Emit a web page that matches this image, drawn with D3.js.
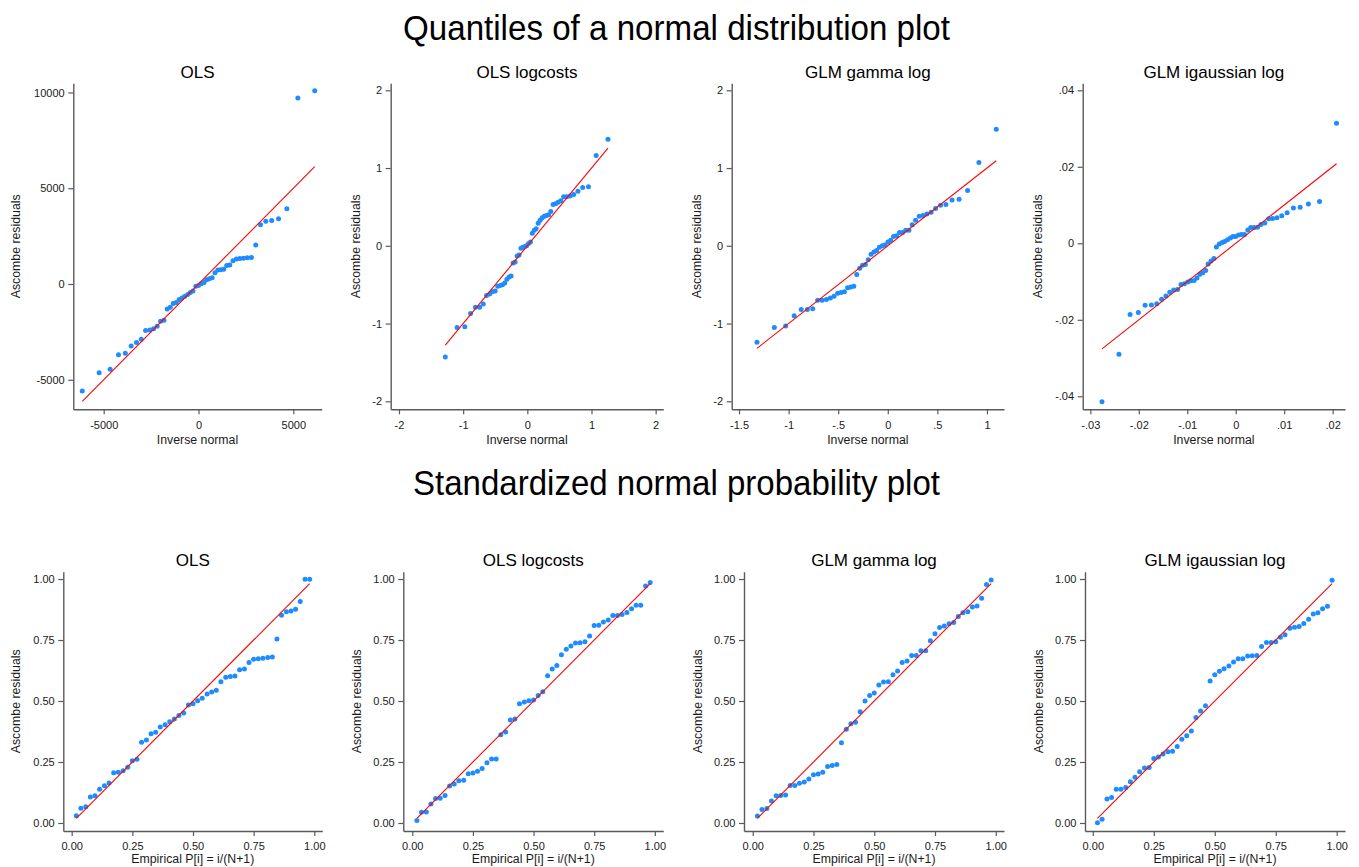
<!DOCTYPE html>
<html>
<head>
<meta charset="utf-8">
<script src="https://cdn.jsdelivr.net/npm/d3@7"></script>
<style>
  body { margin: 0; background: #fff; }
  svg { display: block; }
  text { font-family: "Liberation Sans", Arial, Helvetica, sans-serif; }
</style>
</head>
<body>
<div id="chart"></div>
<script>
// ---- data ----
const mainTitles = ['Quantiles of a normal distribution plot', 'Standardized normal probability plot'];
const modelNames = ['OLS', 'OLS logcosts', 'GLM gamma log', 'GLM igaussian log'];

// top row: x = inverse normal, y = sorted Ascombe residuals
const invOls = [-6130,-5240,-4660,-4220,-3860,-3550,-3270,-3020,-2790,-2570,-2370,-2180,-2000,-1820,-1650,-1490,-1330,-1170,-1020,-870,-720,-570,-430,-290,-140,0,140,290,430,570,720,870,1020,1170,1330,1490,1650,1820,2000,2180,2370,2570,2790,3020,3270,3550,3860,4220,4660,5240,6130];
const resOls = [-5590,-4630,-4450,-3700,-3620,-3240,-3050,-2890,-2430,-2400,-2340,-2200,-1950,-1890,-1300,-1220,-1020,-970,-810,-730,-640,-550,-440,-360,-120,-80,10,80,220,280,330,590,730,750,770,970,990,1210,1310,1330,1350,1370,1390,2040,3100,3270,3320,3410,3930,9710,10090];

const invLogcosts = [-1.278,-1.094,-0.974,-0.884,-0.809,-0.744,-0.687,-0.635,-0.587,-0.543,-0.501,-0.461,-0.423,-0.387,-0.352,-0.318,-0.285,-0.253,-0.221,-0.190,-0.159,-0.129,-0.099,-0.070,-0.040,-0.011,0.019,0.049,0.078,0.108,0.138,0.169,0.200,0.232,0.264,0.297,0.331,0.366,0.402,0.440,0.480,0.522,0.566,0.614,0.666,0.723,0.788,0.863,0.953,1.073,1.257];
const resLogcosts = [-1.43,-1.05,-1.04,-0.87,-0.79,-0.79,-0.75,-0.64,-0.62,-0.59,-0.58,-0.52,-0.51,-0.50,-0.48,-0.43,-0.40,-0.39,-0.22,-0.21,-0.13,-0.12,-0.03,-0.02,-0.01,0.00,0.03,0.05,0.16,0.20,0.22,0.29,0.33,0.36,0.38,0.39,0.40,0.44,0.53,0.54,0.56,0.58,0.63,0.63,0.64,0.66,0.70,0.75,0.76,1.16,1.37];

const invGamma = [-1.319,-1.144,-1.030,-0.944,-0.873,-0.811,-0.757,-0.707,-0.662,-0.619,-0.579,-0.542,-0.505,-0.471,-0.438,-0.405,-0.374,-0.343,-0.313,-0.283,-0.254,-0.226,-0.197,-0.169,-0.140,-0.113,-0.084,-0.056,-0.028,0.001,0.029,0.058,0.088,0.118,0.149,0.180,0.213,0.246,0.280,0.317,0.354,0.394,0.437,0.482,0.532,0.586,0.648,0.719,0.805,0.919,1.094];
const resGamma = [-1.24,-1.05,-1.03,-0.90,-0.82,-0.82,-0.81,-0.70,-0.70,-0.69,-0.67,-0.65,-0.61,-0.60,-0.59,-0.54,-0.53,-0.52,-0.37,-0.29,-0.25,-0.24,-0.18,-0.11,-0.08,-0.06,-0.02,0.00,0.01,0.05,0.07,0.12,0.13,0.17,0.17,0.20,0.20,0.27,0.33,0.38,0.39,0.41,0.43,0.48,0.52,0.53,0.59,0.60,0.71,1.07,1.50];

const invIgauss = [-0.0276,-0.0241,-0.0218,-0.0201,-0.0187,-0.0174,-0.0163,-0.0153,-0.0144,-0.0136,-0.0128,-0.0120,-0.0113,-0.0106,-0.0099,-0.0093,-0.0086,-0.0080,-0.0074,-0.0068,-0.0062,-0.0057,-0.0051,-0.0045,-0.0040,-0.0034,-0.0028,-0.0023,-0.0017,-0.0011,-0.0006,0.0000,0.0006,0.0012,0.0018,0.0025,0.0031,0.0038,0.0045,0.0052,0.0060,0.0068,0.0076,0.0085,0.0095,0.0106,0.0119,0.0133,0.0150,0.0173,0.0208];
const resIgauss = [-0.0414,-0.0290,-0.0186,-0.0181,-0.0162,-0.0161,-0.0158,-0.0146,-0.0138,-0.0128,-0.0122,-0.0121,-0.0108,-0.0106,-0.0101,-0.0098,-0.0097,-0.0091,-0.0081,-0.0077,-0.0071,-0.0054,-0.0046,-0.0040,-0.0010,-0.0002,0.0002,0.0005,0.0009,0.0014,0.0018,0.0018,0.0022,0.0023,0.0023,0.0035,0.0041,0.0041,0.0042,0.0049,0.0053,0.0064,0.0065,0.0067,0.0072,0.0080,0.0092,0.0094,0.0103,0.0109,0.0314];

// bottom row: x = empirical P[i] = i/(N+1), y = standardized normal probability
const pEmpirical = [0.019,0.038,0.058,0.077,0.096,0.115,0.135,0.154,0.173,0.192,0.212,0.231,0.250,0.269,0.288,0.308,0.327,0.346,0.365,0.385,0.404,0.423,0.442,0.462,0.481,0.500,0.519,0.538,0.558,0.577,0.596,0.615,0.635,0.654,0.673,0.692,0.712,0.731,0.750,0.769,0.788,0.808,0.827,0.846,0.865,0.885,0.904,0.923,0.942,0.962,0.981];
const stdOls = [0.030,0.060,0.067,0.107,0.112,0.138,0.153,0.164,0.206,0.208,0.214,0.228,0.255,0.261,0.331,0.340,0.366,0.372,0.393,0.403,0.415,0.426,0.441,0.451,0.484,0.489,0.501,0.511,0.529,0.537,0.544,0.579,0.597,0.600,0.602,0.628,0.631,0.658,0.671,0.673,0.675,0.678,0.680,0.754,0.852,0.866,0.869,0.876,0.908,0.999,0.999];
const stdLogcosts = [0.010,0.044,0.045,0.078,0.100,0.101,0.113,0.152,0.160,0.173,0.175,0.202,0.205,0.212,0.223,0.247,0.262,0.262,0.362,0.373,0.422,0.426,0.489,0.496,0.501,0.504,0.523,0.538,0.604,0.631,0.646,0.690,0.712,0.725,0.738,0.739,0.743,0.766,0.809,0.811,0.824,0.832,0.850,0.850,0.855,0.863,0.878,0.893,0.893,0.971,0.986];
const stdGamma = [0.029,0.055,0.059,0.090,0.112,0.113,0.115,0.154,0.154,0.163,0.168,0.180,0.198,0.201,0.208,0.232,0.236,0.240,0.329,0.384,0.407,0.413,0.456,0.500,0.523,0.533,0.566,0.578,0.579,0.608,0.623,0.658,0.664,0.687,0.687,0.706,0.706,0.747,0.776,0.801,0.807,0.817,0.822,0.846,0.862,0.866,0.885,0.889,0.921,0.978,0.996];
const stdIgauss = [0.001,0.015,0.098,0.104,0.138,0.138,0.145,0.169,0.187,0.210,0.225,0.227,0.264,0.270,0.283,0.292,0.294,0.314,0.343,0.358,0.377,0.432,0.459,0.481,0.582,0.608,0.622,0.632,0.643,0.660,0.673,0.673,0.684,0.686,0.687,0.723,0.740,0.740,0.743,0.761,0.772,0.798,0.802,0.805,0.818,0.835,0.857,0.862,0.878,0.888,0.995];

// tick values / labels
const ticksOls = [-5000, 0, 5000, 10000];
const ticksOlsX = [-5000, 0, 5000];
const ticksTwo = [-2, -1, 0, 1, 2];
const ticksGammaX = [-1.5, -1, -0.5, 0, 0.5, 1];
const labelsGammaX = ['-1.5', '-1', '-.5', '0', '.5', '1'];
const ticksIgaussX = [-0.03, -0.02, -0.01, 0, 0.01, 0.02];
const labelsIgaussX = ['-.03', '-.02', '-.01', '0', '.01', '.02'];
const ticksIgaussY = [-0.04, -0.02, 0, 0.02, 0.04];
const labelsIgaussY = ['-.04', '-.02', '0', '.02', '.04'];
const ticksProb = [0, 0.25, 0.5, 0.75, 1];
const labelsProb = ['0.00', '0.25', '0.50', '0.75', '1.00'];

// ---- layout ----
const W = 1359, H = 867;
const DOT = '#1e8cff', LINE = '#ff0000', AXIS = '#5a5a5a', INK = '#1a1a1a';

const topT = 83.3, topB = 409.3, botT = 571.7, botB = 831;

const panels = [
  // quantile plots
  { title: modelNames[0], xs: invOls, ys: resOls, l: 73.3, r: 321.7, t: topT, b: topB,
    xDom: [-6603, 6498], yDom: [-6542, 10479], xTicks: ticksOlsX, yTicks: ticksOls,
    xTitle: 'Inverse normal', xTitleDy: 35, yTitleX: 16 },
  { title: modelNames[1], xs: invLogcosts, ys: resLogcosts, l: 390.7, r: 663.3, t: topT, b: topB,
    xDom: [-2.129, 2.119], yDom: [-2.103, 2.090], xTicks: ticksTwo, yTicks: ticksTwo,
    xTitle: 'Inverse normal', xTitleDy: 35, yTitleX: 356 },
  { title: modelNames[2], xs: invGamma, ys: resGamma, l: 731.7, r: 1004, t: topT, b: topB,
    xDom: [-1.574, 1.172], yDom: [-2.103, 2.090], xTicks: ticksGammaX, xLabels: labelsGammaX, yTicks: ticksTwo,
    xTitle: 'Inverse normal', xTitleDy: 35, yTitleX: 697 },
  { title: modelNames[3], xs: invIgauss, ys: resIgauss, l: 1082.7, r: 1345, t: topT, b: topB,
    xDom: [-0.03158, 0.02255], yDom: [-0.0434, 0.04183], xTicks: ticksIgaussX, xLabels: labelsIgaussX,
    yTicks: ticksIgaussY, yLabels: labelsIgaussY, xTitle: 'Inverse normal', xTitleDy: 35, yTitleX: 1038 },
  // probability plots
  { title: modelNames[0], xs: pEmpirical, ys: stdOls, l: 63.3, r: 322.3, t: botT, b: botB,
    xDom: [-0.0346, 1.033], yDom: [-0.0328, 1.030], xTicks: ticksProb, xLabels: labelsProb,
    yTicks: ticksProb, yLabels: labelsProb, xTitle: 'Empirical P[i] = i/(N+1)', xTitleDy: 31.5, yTitleX: 16 },
  { title: modelNames[1], xs: pEmpirical, ys: stdLogcosts, l: 403.3, r: 663.3, t: botT, b: botB,
    xDom: [-0.037, 1.035], yDom: [-0.0328, 1.030], xTicks: ticksProb, xLabels: labelsProb,
    yTicks: ticksProb, yLabels: labelsProb, xTitle: 'Empirical P[i] = i/(N+1)', xTitleDy: 31.5, yTitleX: 356.7 },
  { title: modelNames[2], xs: pEmpirical, ys: stdGamma, l: 744, r: 1004, t: botT, b: botB,
    xDom: [-0.036, 1.034], yDom: [-0.0328, 1.030], xTicks: ticksProb, xLabels: labelsProb,
    yTicks: ticksProb, yLabels: labelsProb, xTitle: 'Empirical P[i] = i/(N+1)', xTitleDy: 31.5, yTitleX: 697.3 },
  { title: modelNames[3], xs: pEmpirical, ys: stdIgauss, l: 1085, r: 1345, t: botT, b: botB,
    xDom: [-0.032, 1.034], yDom: [-0.0328, 1.030], xTicks: ticksProb, xLabels: labelsProb,
    yTicks: ticksProb, yLabels: labelsProb, xTitle: 'Empirical P[i] = i/(N+1)', xTitleDy: 31.5, yTitleX: 1038.3 }
];

const svg = d3.select('#chart').append('svg')
  .attr('width', W)
  .attr('height', H)
  .attr('viewBox', [0, 0, W, H]);

svg.append('rect').attr('width', W).attr('height', H).attr('fill', '#fff');

// big section titles
const sectionY = [40, 495];
const sectionW = [547, 527];
mainTitles.forEach((t, i) => {
  svg.append('text')
    .attr('x', 676.5)
    .attr('y', sectionY[i])
    .attr('text-anchor', 'middle')
    .attr('font-size', 35)
    .attr('textLength', sectionW[i])
    .attr('lengthAdjust', 'spacingAndGlyphs')
    .attr('fill', '#000')
    .text(t);
});

function styleAxis(g) {
  g.attr('font-family', null).attr('font-size', null);
  g.select('.domain').attr('stroke', AXIS).attr('stroke-width', 1.4);
  g.selectAll('.tick line').attr('stroke', AXIS).attr('stroke-width', 1.2);
  g.selectAll('.tick text').attr('fill', INK).style('font-size', '11px');
}

panels.forEach(p => {
  const x = d3.scaleLinear().domain(p.xDom).range([p.l, p.r]);
  const y = d3.scaleLinear().domain(p.yDom).range([p.b, p.t]);
  const g = svg.append('g');

  const xAxis = d3.axisBottom(x)
    .tickValues(p.xTicks)
    .tickFormat((d, i) => p.xLabels ? p.xLabels[i] : String(d))
    .tickSizeInner(5).tickSizeOuter(0).tickPadding(6.5);
  const yAxis = d3.axisLeft(y)
    .tickValues(p.yTicks)
    .tickFormat((d, i) => p.yLabels ? p.yLabels[i] : String(d))
    .tickSizeInner(5).tickSizeOuter(0).tickPadding(3.6);

  g.append('g').attr('transform', `translate(0,${p.b})`).call(xAxis).call(styleAxis);
  g.append('g').attr('transform', `translate(${p.l},0)`).call(yAxis).call(styleAxis);

  // points
  const pts = p.xs.map((v, i) => [v, p.ys[i]]);
  g.append('g')
    .selectAll('circle')
    .data(pts)
    .join('circle')
    .attr('cx', d => x(d[0]))
    .attr('cy', d => y(d[1]))
    .attr('r', 2.5)
    .attr('fill', DOT);

  // reference line y = x over the range of the plotted x values
  const ext = d3.extent(p.xs);
  g.append('path')
    .datum([ext[0], ext[1]])
    .attr('d', d3.line().x(d => x(d)).y(d => y(d)))
    .attr('fill', 'none')
    .attr('stroke', LINE)
    .attr('stroke-width', 1.1);

  // titles
  const cx = (p.l + p.r) / 2;
  g.append('text')
    .attr('x', cx).attr('y', p.t - 5.6)
    .attr('text-anchor', 'middle')
    .attr('font-size', 17)
    .attr('fill', '#000')
    .text(p.title);

  g.append('text')
    .attr('x', cx).attr('y', p.b + p.xTitleDy)
    .attr('text-anchor', 'middle')
    .attr('font-size', 12.3)
    .attr('fill', INK)
    .text(p.xTitle);

  g.append('text')
    .attr('transform', `translate(${p.yTitleX},${(p.t + p.b) / 2}) rotate(-90)`)
    .attr('dy', '0.35em')
    .attr('text-anchor', 'middle')
    .attr('font-size', 12.3)
    .attr('fill', INK)
    .text('Ascombe residuals');
});
</script>
</body>
</html>
